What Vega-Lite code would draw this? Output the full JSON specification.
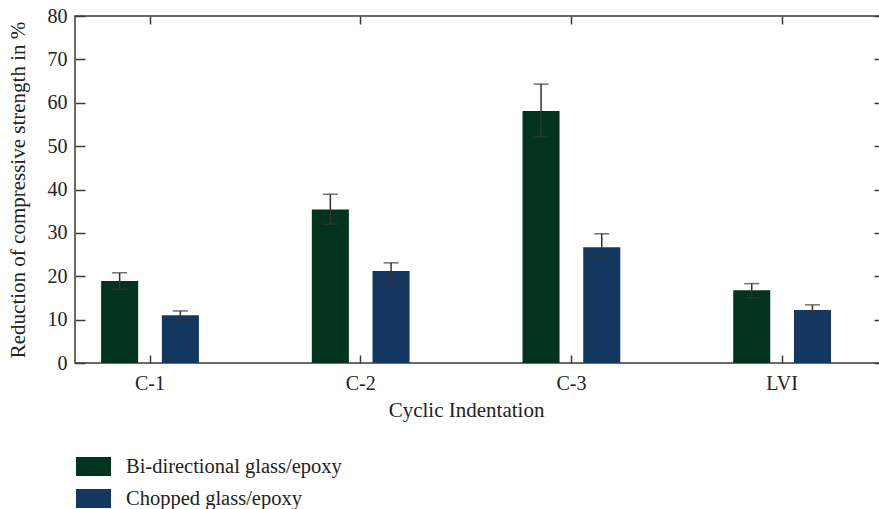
{
  "$schema": "https://vega.github.io/schema/vega-lite/v6.json",
  "width": 805,
  "height": 347,
  "autosize": {"type": "none"},
  "padding": {"left": 75, "top": 16, "right": 0, "bottom": 146},
  "background": "white",
  "config": {
    "view": {"stroke": "#3a3a3a", "strokeWidth": 1.5},
    "font": "Liberation Serif",
    "axis": {
      "domain": false,
      "grid": false,
      "tickColor": "#3a3a3a",
      "tickWidth": 1.5,
      "labelFont": "Liberation Serif",
      "titleFont": "Liberation Serif",
      "labelColor": "#222",
      "titleColor": "#222",
      "titleFontWeight": "normal",
      "labelFontSize": 20,
      "titleFontSize": 21
    }
  },
  "data": {
    "values": [
      {"cat": "C-1", "series": "Bi-directional glass/epoxy", "value": 18.9, "lo": 17.0, "hi": 20.8},
      {"cat": "C-1", "series": "Chopped glass/epoxy", "value": 11.0, "lo": 9.9, "hi": 12.0},
      {"cat": "C-2", "series": "Bi-directional glass/epoxy", "value": 35.4, "lo": 32.0, "hi": 38.9},
      {"cat": "C-2", "series": "Chopped glass/epoxy", "value": 21.2, "lo": 19.0, "hi": 23.1},
      {"cat": "C-3", "series": "Bi-directional glass/epoxy", "value": 58.1, "lo": 52.2, "hi": 64.3},
      {"cat": "C-3", "series": "Chopped glass/epoxy", "value": 26.7, "lo": 24.1, "hi": 29.8},
      {"cat": "LVI", "series": "Bi-directional glass/epoxy", "value": 16.8, "lo": 15.0, "hi": 18.3},
      {"cat": "LVI", "series": "Chopped glass/epoxy", "value": 12.2, "lo": 11.0, "hi": 13.4}
    ]
  },
  "resolve": {"axis": {"x": "independent", "y": "independent"}},
  "layer": [
    {
      "mark": {"type": "bar"},
      "encoding": {
        "x": {
          "field": "cat",
          "type": "nominal",
          "sort": null,
          "scale": {"range": [-30.35, 812.45], "paddingInner": 0, "paddingOuter": 0},
          "axis": {
            "orient": "bottom",
            "title": "Cyclic Indentation",
            "labelAngle": 0,
            "tickSize": -8,
            "labelPadding": 18,
            "titlePadding": 6
          }
        },
        "xOffset": {
          "field": "series",
          "type": "nominal",
          "sort": null,
          "scale": {"paddingInner": 0.39, "paddingOuter": 0.93}
        },
        "y": {
          "field": "value",
          "type": "quantitative",
          "scale": {"domain": [0, 80], "nice": false},
          "axis": {
            "orient": "left",
            "title": "Reduction of compressive strength in %",
            "values": [0, 10, 20, 30, 40, 50, 60, 70, 80],
            "tickSize": -10,
            "labelPadding": 18,
            "titlePadding": 19
          }
        },
        "color": {
          "field": "series",
          "type": "nominal",
          "sort": null,
          "scale": {"range": ["#02331f", "#13375e"]},
          "legend": {
            "orient": "none",
            "legendX": 1,
            "legendY": 433,
            "title": null,
            "labelFont": "Liberation Serif",
            "labelFontSize": 20.5,
            "labelColor": "#222",
            "labelLimit": 0,
            "symbolType": "M-1,-0.54L1,-0.54L1,0.54L-1,0.54Z",
            "symbolSize": 1225,
            "symbolStrokeWidth": 0,
            "symbolOpacity": 1,
            "rowPadding": 4,
            "labelOffset": 15
          }
        }
      }
    },
    {
      "mark": {"type": "rule", "color": "#333", "strokeWidth": 1.5},
      "encoding": {
        "x": {
          "field": "cat",
          "type": "nominal",
          "sort": null,
          "axis": {"orient": "top", "labels": false, "title": null, "tickSize": -8}
        },
        "xOffset": {"field": "series", "type": "nominal", "sort": null},
        "y": {
          "field": "lo",
          "type": "quantitative",
          "axis": {"orient": "right", "labels": false, "title": null, "values": [0, 10, 20, 30, 40, 50, 60, 70, 80], "tickSize": -6}
        },
        "y2": {"field": "hi"}
      }
    },
    {
      "mark": {"type": "tick", "color": "#333", "size": 15, "thickness": 1.5, "orient": "horizontal"},
      "encoding": {
        "x": {"field": "cat", "type": "nominal", "sort": null, "axis": null},
        "xOffset": {"field": "series", "type": "nominal", "sort": null},
        "y": {"field": "lo", "type": "quantitative", "axis": null}
      }
    },
    {
      "mark": {"type": "tick", "color": "#333", "size": 15, "thickness": 1.5, "orient": "horizontal"},
      "encoding": {
        "x": {"field": "cat", "type": "nominal", "sort": null, "axis": null},
        "xOffset": {"field": "series", "type": "nominal", "sort": null},
        "y": {"field": "hi", "type": "quantitative", "axis": null}
      }
    }
  ]
}
